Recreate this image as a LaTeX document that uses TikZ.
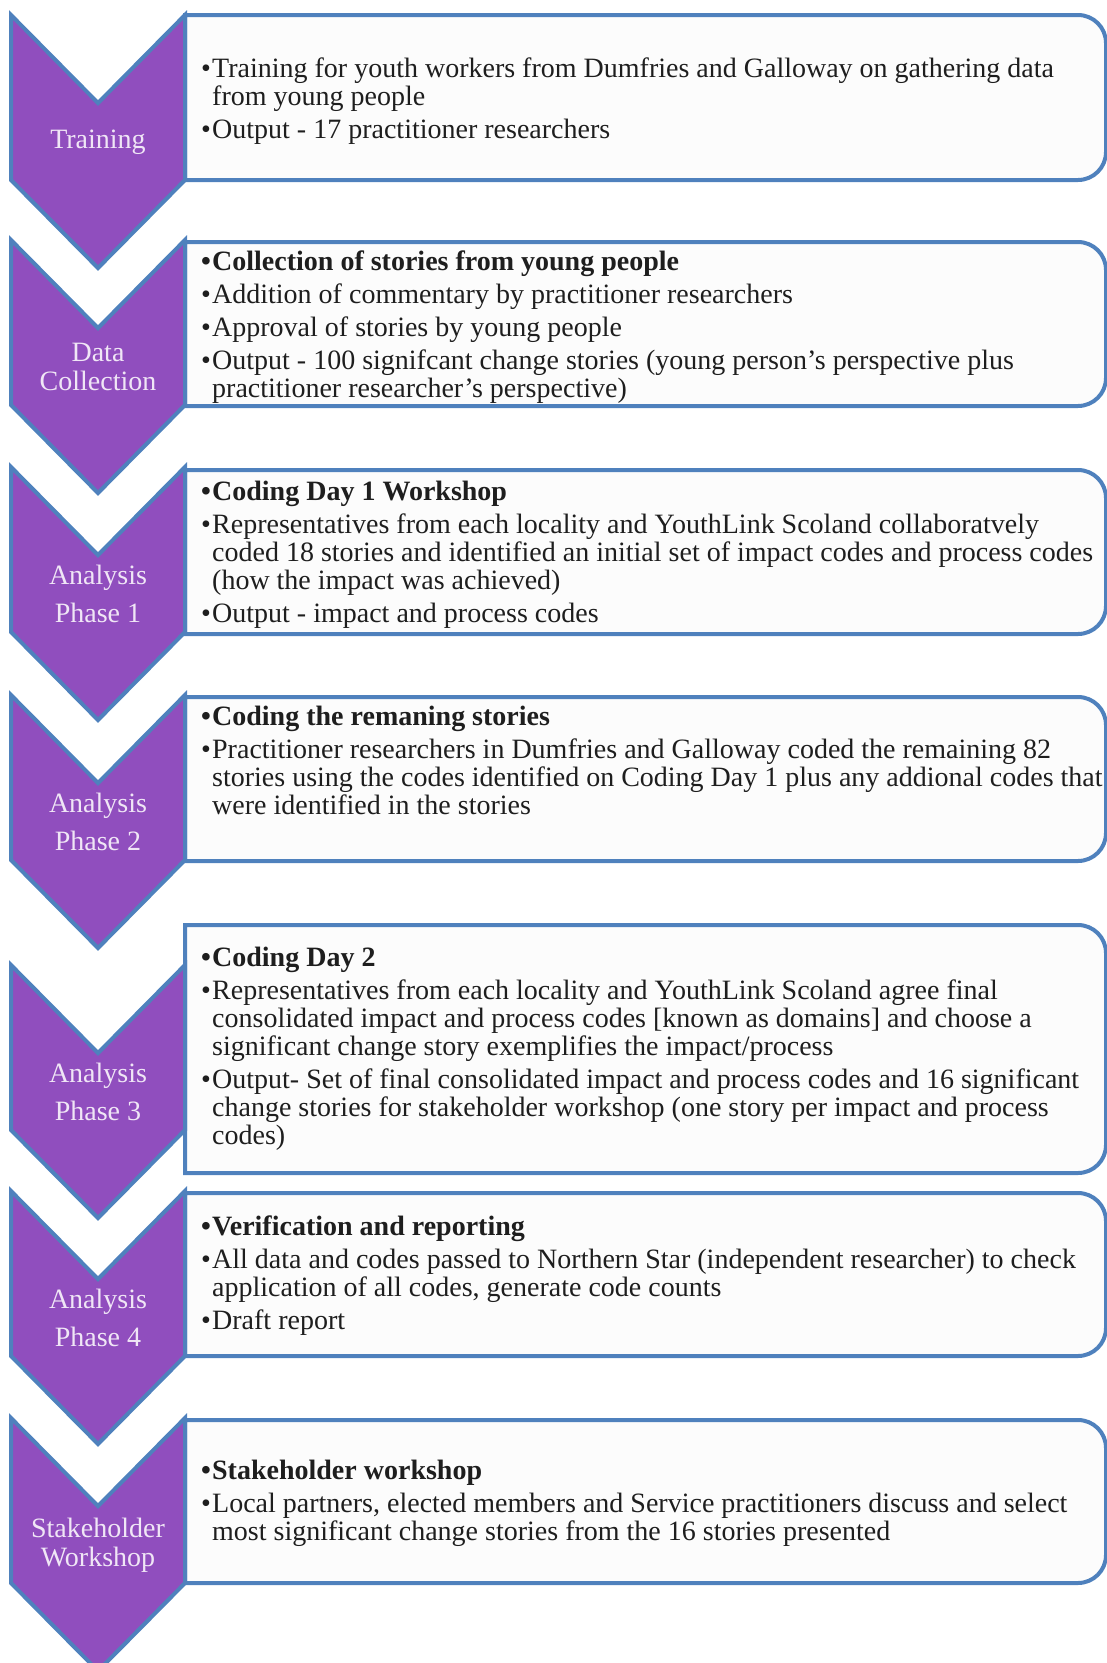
\documentclass[tikz,border=0pt]{standalone}
\usepackage{fontspec}
\setmainfont{Liberation Serif}
\definecolor{chevfill}{RGB}{144,78,190}
\definecolor{edgeblue}{RGB}{79,129,189}
\definecolor{chevtext}{RGB}{240,230,246}
\definecolor{bodytext}{RGB}{30,30,30}
\newcommand{\bul}{\makebox[11pt][l]{•}} % bullet in front of each point
\newcommand{\ind}{\hspace*{11pt}} % hanging indent of a wrapped line
\tikzset{
x=1pt, y=-1pt, % one unit per pixel, y going down
chevron/.style={draw=edgeblue, line width=4pt, fill=chevfill}, % purple step arrows
stepbox/.style={draw=edgeblue, line width=4pt, fill=black!1}, % boxes on the right
chevlabel/.style={text=chevtext, align=center, font=\fontsize{28}{28.6}\selectfont},
boxtext/.style={text=bodytext, align=left, anchor=north west, inner sep=0pt, font=\fontsize{28}{28}\selectfont},
}

\begin{document}
\begin{tikzpicture}
    \useasboundingbox (0,0) rectangle (1107,1663);
    % boxes: top/bottom
    \foreach \t/\b in {15/180, 242/406, 470/634, 697/861, 925/1173, 1193/1356, 1420/1583}
      \draw[stepbox] (185,\b) -- (185,\t) -- (1078,\t) arc[start angle=-90, end angle=0, radius=28]
        -- (1106,\b-28) arc[start angle=0, end angle=90, radius=28] -- cycle;
    % chevrons with their labels
    \foreach \t/\lbl [count=\i] in {15/Training, 240/{Data\\Collection}, 467/{Analysis\\[10pt]Phase 1},
      695/{Analysis\\[10pt]Phase 2}, 965/{Analysis\\[10pt]Phase 3}, 1191/{Analysis\\[10pt]Phase 4},
      1418/{Stakeholder\\Workshop}}{
      \draw[chevron] (11,\t) -- (98,\t+88) -- (185,\t) -- (185,\t+165) -- (98,\t+253) -- (11,\t+165) -- cycle;
      \node[chevlabel] (chev\i) at (98,\t+127) {\lbl};
    }
    \node[boxtext] (train) at (201,58) {\bul Training for youth workers from Dumfries and Galloway on gathering data\\\ind from young people\\[5pt]\bul Output - 17 practitioner researchers};
    \node[boxtext] (collect) at (201,251) {\textbf{\bul Collection of stories from young people}\\[5pt]\bul Addition of commentary by practitioner researchers\\[5pt]\bul Approval of stories by young people\\[5pt]\bul Output - 100 signifcant change stories (young person's perspective plus\\\ind practitioner researcher's perspective)};
    \node[boxtext] (phase1) at (201,481) {\textbf{\bul Coding Day 1 Workshop}\\[5pt]\bul Representatives from each locality and YouthLink Scoland collaboratvely\\\ind coded 18 stories and identified an initial set of impact codes and process codes\\\ind (how the impact was achieved)\\[5pt]\bul Output - impact and process codes};
    \node[boxtext] (phase2) at (201,706) {\textbf{\bul Coding the remaning stories}\\[5pt]\bul Practitioner researchers in Dumfries and Galloway coded the remaining 82\\\ind stories using the codes identified on Coding Day 1 plus any addional codes that\\\ind were identified in the stories};
    \node[boxtext] (phase3) at (201,947) {\textbf{\bul Coding Day 2}\\[5pt]\bul Representatives from each locality and YouthLink Scoland agree final\\\ind consolidated impact and process codes [known as domains] and choose a\\\ind significant change story exemplifies the impact/process\\[5pt]\bul Output- Set of final consolidated impact and process codes and 16 significant\\\ind change stories for stakeholder workshop (one story per impact and process\\\ind codes)};
    \node[boxtext] (phase4) at (201,1216) {\textbf{\bul Verification and reporting}\\[5pt]\bul All data and codes passed to Northern Star (independent researcher) to check\\\ind application of all codes, generate code counts\\[5pt]\bul Draft report};
    \node[boxtext] (stake) at (201,1460) {\textbf{\bul Stakeholder workshop}\\[5pt]\bul Local partners, elected members and Service practitioners discuss and select\\\ind most significant change stories from the 16 stories presented};
  \end{tikzpicture}
\end{document}
